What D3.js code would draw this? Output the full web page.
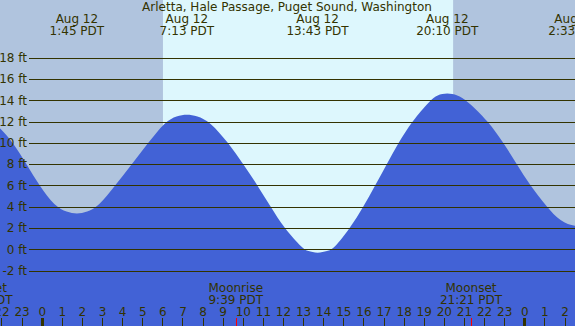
<!DOCTYPE html>
<html>
<head>
<meta charset="utf-8">
<script src="https://cdn.jsdelivr.net/npm/d3@7"></script>
<style>
	body { margin: 0; padding: 0; overflow: hidden; }
	svg { display: block; font-family: "DejaVu Sans", sans-serif; font-size: 12px; }
	text { fill: #333300; }
</style>
</head>
<body>
<svg id="tide-chart" width="575" height="326"></svg>
<script>

function whenDocumentLoaded(action) {
	if (document.readyState === "loading") {
		document.addEventListener("DOMContentLoaded", action);
	} else {
		action();
	}
}

const TITLE = 'Arletta, Hale Passage, Puget Sound, Washington';

// tide height (ft), hours from midnight Aug 12
const TIDE_HOURS = [-2.6, -2.075, -1.41, -0.75, -0.12, 0.66, 1.25, 1.75, 2.25, 2.82, 3.65, 4.48, 5.30, 6.13,
	6.72, 7.22, 7.72, 8.37, 9.28, 10.03, 10.73, 11.39, 12.05, 13.01, 13.22, 13.72, 14.22, 14.51, 15.34, 16.0,
	16.58, 17.16, 17.74, 18.41, 19.32, 19.67, 20.17, 20.67, 21.14, 22.22, 22.96, 23.63, 24.29, 25.12, 25.79,
	26.55, 27.1];
const TIDE_FEET = [12.3, 11.4, 10, 8, 6, 4, 3.5, 3.3, 3.5, 4, 6, 8, 10, 12,
	12.55, 12.7, 12.55, 12, 10, 8, 6, 4, 2, 0, -0.15, -0.4, -0.15, 0, 2, 4,
	6, 8, 10, 12, 14, 14.5, 14.7, 14.5, 14, 12, 10, 8, 6, 4, 2.6,
	2.1, 2.3];

// high / low events shown on top
const EVENT_HOURS = [1.75, 7.22, 13.72, 20.17, 26.55];
const EVENT_DATES = ['Aug 12', 'Aug 12', 'Aug 12', 'Aug 12', 'Aug 13'];
const EVENT_TIMES = ['1:45 PDT', '7:13 PDT', '13:43 PDT', '20:10 PDT', '2:33 PDT'];

// moon events shown at the bottom
const MOON_HOURS = [-3.0, 9.65, 21.35];
const MOON_NAMES = ['Moonset', 'Moonrise', 'Moonset'];
const MOON_TIMES = ['21:00 PDT', '9:39 PDT', '21:21 PDT'];

const SUNRISE = 6.03;
const SUNSET = 20.46;

const FEET_TICKS = [-2, 0, 2, 4, 6, 8, 10, 12, 14, 16, 18];
const HOUR_TICKS = d3.range(-2, 27);

const WIDTH = 575, HEIGHT = 326;

class TideChart {
	constructor(containerId) {
		this.svg = d3.select(`#${containerId}`);
		this.data = TIDE_HOURS.map((h, i) => ({ h: h, ft: TIDE_FEET[i] }));
		this.x = d3.scaleLinear().domain([0, 24]).range([41.7, 524.3]);
		this.y = d3.scaleLinear().domain([0, 18]).range([249.3, 57.7]);
	}

	show() {
		const svg = this.svg, x = this.x, y = this.y;

		// night everywhere, day in between sunrise and sunset
		svg.append('rect')
			.attr('width', WIDTH).attr('height', HEIGHT)
			.attr('fill', '#b0c4de');
		svg.append('rect')
			.attr('x', x(SUNRISE)).attr('y', 0)
			.attr('width', x(SUNSET) - x(SUNRISE)).attr('height', HEIGHT)
			.attr('fill', '#ddf7fd');

		const area = d3.area()
			.x(d => x(d.h))
			.y0(HEIGHT)
			.y1(d => y(d.ft))
			.curve(d3.curveBasis);
		svg.append('path')
			.datum(this.data)
			.attr('d', area)
			.attr('fill', '#4262d6');

		// feet grid
		const yAxis = d3.axisLeft(y)
			.tickValues(FEET_TICKS)
			.tickSize(WIDTH - 29)
			.tickPadding(2)
			.tickFormat(d => `${d} ft`);
		const gy = svg.append('g')
			.attr('transform', `translate(${WIDTH},0)`)
			.call(yAxis);
		gy.select('.domain').remove();
		gy.selectAll('line').attr('stroke', '#333300').attr('shape-rendering', 'crispEdges');
		gy.selectAll('text').attr('fill', '#333300')
			.style('font-family', '"DejaVu Sans", sans-serif').style('font-size', '12px');

		// hour ticks along the bottom
		const xAxis = d3.axisTop(x)
			.tickValues(HOUR_TICKS)
			.tickSize(8)
			.tickPadding(2)
			.tickFormat(d => ((d % 24) + 24) % 24);
		const gx = svg.append('g')
			.attr('transform', `translate(0,${HEIGHT})`)
			.call(xAxis);
		gx.select('.domain').remove();
		gx.selectAll('line').attr('stroke', '#333300').attr('shape-rendering', 'crispEdges');
		gx.selectAll('.tick').filter(d => d % 24 === 0).select('line').attr('stroke-width', 3);
		gx.selectAll('text').attr('fill', '#333300')
			.style('font-family', '"DejaVu Sans", sans-serif').style('font-size', '12px');

		// red ticks at moonrise / moonset
		svg.selectAll('.moon-tick')
			.data(MOON_HOURS)
			.enter()
			.append('line')
			.attr('x1', d => Math.round(x(d)) + 0.5).attr('x2', d => Math.round(x(d)) + 0.5)
			.attr('y1', HEIGHT - 8).attr('y2', HEIGHT)
			.attr('stroke', 'red');

		const moon = svg.selectAll('.moon')
			.data(MOON_HOURS)
			.enter()
			.append('text')
			.attr('text-anchor', 'middle')
			.attr('x', d => x(d));
		moon.append('tspan').attr('x', d => x(d)).attr('y', 291.5).text((d, i) => MOON_NAMES[i]);
		moon.append('tspan').attr('x', d => x(d)).attr('y', 304).text((d, i) => MOON_TIMES[i]);

		// tide events
		const ev = svg.selectAll('.event')
			.data(EVENT_HOURS)
			.enter()
			.append('text')
			.attr('text-anchor', 'middle');
		ev.append('tspan').attr('x', d => x(d)).attr('y', 23).text((d, i) => EVENT_DATES[i]);
		ev.append('tspan').attr('x', d => x(d)).attr('y', 35).text((d, i) => EVENT_TIMES[i]);

		svg.append('text')
			.attr('x', 287).attr('y', 11)
			.attr('text-anchor', 'middle')
			.text(TITLE);
	}
}

whenDocumentLoaded(() => {
	const chart = new TideChart('tide-chart');
	chart.show();
});

</script>
</body>
</html>
